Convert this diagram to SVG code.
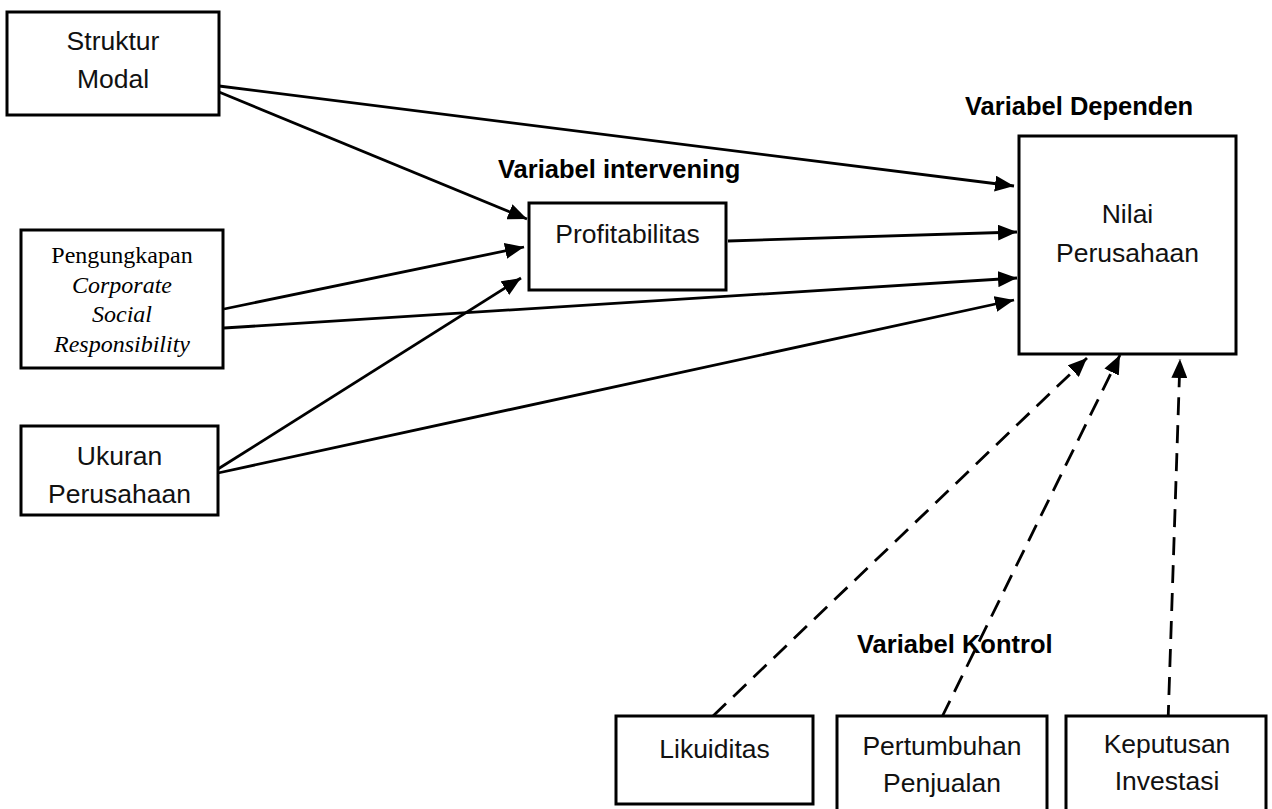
<svg xmlns="http://www.w3.org/2000/svg" width="1272" height="809" viewBox="0 0 1272 809">
<style>
.box{fill:#fff;stroke:#000;stroke-width:3}
.t{font-family:"Liberation Sans",Arial,sans-serif;font-size:26.5px;fill:#111;text-anchor:middle}
.tr{font-family:"Liberation Serif","Times New Roman",serif;font-size:24px;fill:#000;text-anchor:middle}
.b{font-family:"Liberation Sans",Arial,sans-serif;font-size:25.5px;font-weight:bold;fill:#000}
.c{stroke:#000;stroke-width:2.8;fill:none;marker-end:url(#ah)}
.d{stroke-dasharray:18 10}
</style>
<defs>
<marker id="ah" markerUnits="userSpaceOnUse" markerWidth="20" markerHeight="16" refX="19" refY="8" orient="auto">
<path d="M0,0 L19,8 L0,16 z" fill="#000"/>
</marker>
</defs>
<rect width="1272" height="809" fill="#fff"/>
<g id="connectors">
<line class="c" x1="219" y1="86" x2="1014" y2="186"/>
<line class="c" x1="219" y1="92" x2="527" y2="219"/>
<line class="c" x1="224" y1="309" x2="524" y2="247"/>
<line class="c" x1="224" y1="328" x2="1017" y2="278"/>
<line class="c" x1="728" y1="241" x2="1017" y2="232"/>
<line class="c" x1="218" y1="469" x2="521" y2="278"/>
<line class="c" x1="218" y1="473" x2="1014" y2="300"/>
<line class="c d" x1="713" y1="716" x2="1087" y2="358"/>
<line class="c d" x1="942" y1="717" x2="1120" y2="355"/>
<line class="c d" x1="1168" y1="723" x2="1180" y2="359"/>
</g>
<g id="labels">
<text class="b" x="965" y="115">Variabel Dependen</text>
<text class="b" x="498" y="178">Variabel intervening</text>
<text class="b" x="857" y="653">Variabel Kontrol</text>
</g>
<g id="struktur-modal">
<rect class="box" x="7" y="12" width="212" height="103"/>
<text class="t" x="113" y="50">Struktur</text>
<text class="t" x="113" y="88">Modal</text>
</g>
<g id="csr">
<rect class="box" x="21" y="230" width="202" height="138"/>
<text class="tr" x="122" y="263">Pengungkapan</text>
<text class="tr" x="122" y="293" font-style="italic">Corporate</text>
<text class="tr" x="122" y="322" font-style="italic">Social</text>
<text class="tr" x="122" y="352" font-style="italic">Responsibility</text>
</g>
<g id="ukuran-perusahaan">
<rect class="box" x="21" y="426" width="197" height="89"/>
<text class="t" x="119.5" y="465">Ukuran</text>
<text class="t" x="119.5" y="503">Perusahaan</text>
</g>
<g id="profitabilitas">
<rect class="box" x="529" y="203" width="197" height="87"/>
<text class="t" x="627.5" y="243">Profitabilitas</text>
</g>
<g id="nilai-perusahaan">
<rect class="box" x="1019" y="136" width="217" height="218"/>
<text class="t" x="1127.5" y="223">Nilai</text>
<text class="t" x="1127.5" y="262">Perusahaan</text>
</g>
<g id="likuiditas">
<rect class="box" x="616" y="716" width="197" height="88"/>
<text class="t" x="714.5" y="758">Likuiditas</text>
</g>
<g id="pertumbuhan-penjualan">
<rect class="box" x="837" y="716" width="210" height="110"/>
<text class="t" x="942" y="755">Pertumbuhan</text>
<text class="t" x="942" y="792">Penjualan</text>
</g>
<g id="keputusan-investasi">
<rect class="box" x="1066" y="716" width="200" height="110"/>
<text class="t" x="1167" y="753">Keputusan</text>
<text class="t" x="1167" y="790">Investasi</text>
</g>
</svg>
